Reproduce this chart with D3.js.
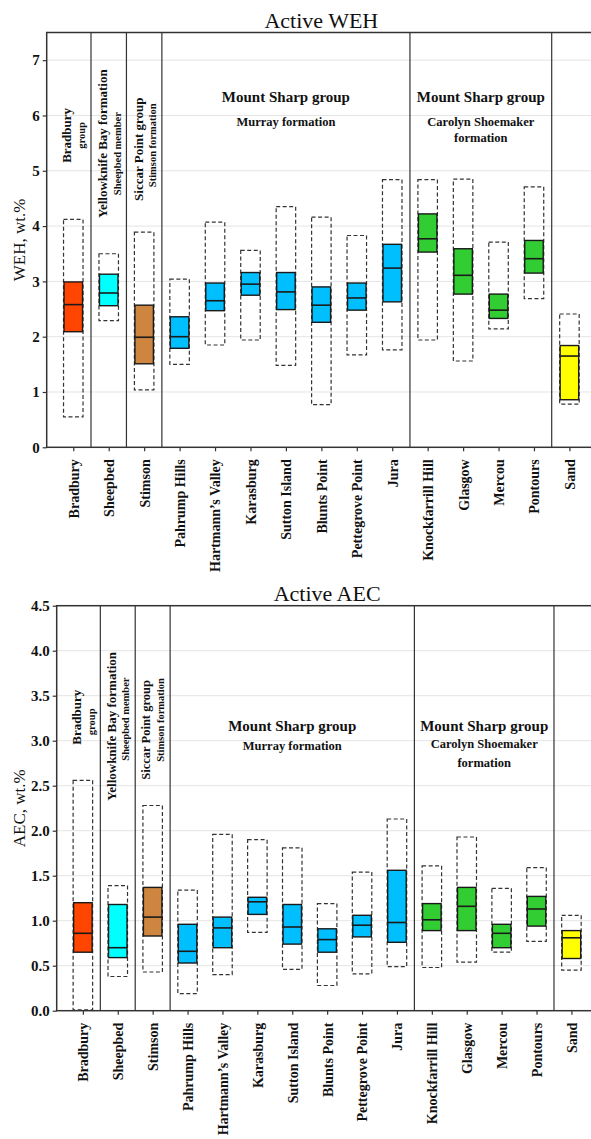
<!DOCTYPE html>
<html>
<head>
<meta charset="utf-8">
<script src="https://cdn.jsdelivr.net/npm/d3@7"></script>
<style>
  html, body { margin: 0; padding: 0; background: #fff; }
  svg { display: block; }
  text { font-family: "Liberation Serif", "Times New Roman", serif; }
</style>
</head>
<body>
<svg id="chart" width="591" height="1139"></svg>
<script>
// ---------------- DATA ----------------
const categories = ["Bradbury", "Sheepbed", "Stimson", "Pahrump Hills", "Hartmann\u2019s Valley",
  "Karasburg", "Sutton Island", "Blunts Point", "Pettegrove Point", "Jura",
  "Knockfarrill Hill", "Glasgow", "Mercou", "Pontours", "Sand"];
const unitColors = ["#FF4500", "#00FFFF", "#CD853F", "#00BFFF", "#00BFFF",
  "#00BFFF", "#00BFFF", "#00BFFF", "#00BFFF", "#00BFFF",
  "#32CD32", "#32CD32", "#32CD32", "#32CD32", "#FFFF00"];
// separators after these categories
const separatorsAfter = ["Bradbury", "Sheepbed", "Stimson", "Jura", "Pontours"];

// Active WEH (wt.%)
const wehMin = [0.55, 2.29, 1.04, 1.50, 1.85, 1.94, 1.48, 0.77, 1.67, 1.76, 1.94, 1.56, 2.14, 2.69, 0.78];
const wehQ1  = [2.09, 2.56, 1.51, 1.79, 2.47, 2.75, 2.49, 2.26, 2.48, 2.63, 3.53, 2.77, 2.33, 3.15, 0.86];
const wehMed = [2.58, 2.79, 1.99, 2.00, 2.65, 2.95, 2.81, 2.57, 2.70, 3.24, 3.77, 3.11, 2.48, 3.41, 1.65];
const wehQ3  = [2.99, 3.13, 2.57, 2.36, 2.97, 3.16, 3.16, 2.90, 2.97, 3.67, 4.22, 3.59, 2.77, 3.74, 1.84];
const wehMax = [4.12, 3.50, 3.89, 3.04, 4.07, 3.56, 4.35, 4.16, 3.83, 4.84, 4.84, 4.85, 3.71, 4.71, 2.41];
const wehTicks = [0, 1, 2, 3, 4, 5, 6, 7];

// Active AEC (wt.%)
const aecMin = [0.01, 0.38, 0.43, 0.19, 0.40, 0.87, 0.46, 0.28, 0.41, 0.49, 0.48, 0.54, 0.65, 0.77, 0.45];
const aecQ1  = [0.65, 0.59, 0.83, 0.53, 0.70, 1.07, 0.74, 0.65, 0.82, 0.76, 0.89, 0.89, 0.70, 0.94, 0.58];
const aecMed = [0.86, 0.70, 1.04, 0.66, 0.92, 1.21, 0.93, 0.79, 0.95, 0.98, 1.01, 1.16, 0.86, 1.13, 0.81];
const aecQ3  = [1.20, 1.18, 1.37, 0.96, 1.04, 1.26, 1.18, 0.91, 1.06, 1.56, 1.19, 1.37, 0.96, 1.27, 0.89];
const aecMax = [2.56, 1.39, 2.28, 1.34, 1.96, 1.90, 1.81, 1.19, 1.54, 2.13, 1.61, 1.93, 1.36, 1.59, 1.06];
const aecTicks = [0, 0.5, 1.0, 1.5, 2.0, 2.5, 3.0, 3.5, 4.0, 4.5];

// ---------------- DRAW ----------------
const svg = d3.select("#chart");

function drawChart(cfg) {
  const g = svg.append("g");
  const x = d3.scalePoint().domain(categories).range([cfg.left, cfg.right]).padding(0.75);
  const y = d3.scaleLinear().domain(cfg.domain).range([cfg.bottom, cfg.top]);
  const step = x.step();
  const bw = 18.5;

  // gridlines
  g.append("g").selectAll("line").data(cfg.ticks.filter(t => t > 0)).join("line")
    .attr("x1", cfg.left).attr("x2", cfg.right)
    .attr("y1", d => y(d)).attr("y2", d => y(d))
    .attr("stroke", "#e4e4e4").attr("stroke-width", 1);

  const rows = categories.map((c, i) => ({
    c, i, min: cfg.min[i], q1: cfg.q1[i], med: cfg.med[i], q3: cfg.q3[i], max: cfg.max[i], color: unitColors[i]
  }));

  // range (dashed) boxes
  g.append("g").selectAll("rect").data(rows).join("rect")
    .attr("x", d => x(d.c) - bw / 2 - 0.5)
    .attr("width", bw + 1)
    .attr("y", d => y(d.max))
    .attr("height", d => y(d.min) - y(d.max))
    .attr("fill", "none")
    .attr("stroke", "#333")
    .attr("stroke-width", 1.2)
    .attr("stroke-dasharray", "4,2.5");

  // interquartile boxes
  g.append("g").selectAll("rect").data(rows).join("rect")
    .attr("x", d => x(d.c) - bw / 2)
    .attr("width", bw)
    .attr("y", d => y(d.q3))
    .attr("height", d => y(d.q1) - y(d.q3))
    .attr("fill", d => d.color)
    .attr("stroke", "#1a1a1a")
    .attr("stroke-width", 1.4);

  // medians
  g.append("g").selectAll("line").data(rows).join("line")
    .attr("x1", d => x(d.c) - bw / 2).attr("x2", d => x(d.c) + bw / 2)
    .attr("y1", d => y(d.med)).attr("y2", d => y(d.med))
    .attr("stroke", "#1a1a1a").attr("stroke-width", 1.6);

  // separators
  g.append("g").selectAll("line").data(separatorsAfter).join("line")
    .attr("x1", d => x(d) + step / 2).attr("x2", d => x(d) + step / 2)
    .attr("y1", cfg.top).attr("y2", cfg.bottom)
    .attr("stroke", "#333").attr("stroke-width", 1.2);

  // frame
  g.append("rect")
    .attr("x", cfg.left).attr("y", cfg.top)
    .attr("width", cfg.right - cfg.left).attr("height", cfg.bottom - cfg.top)
    .attr("fill", "none").attr("stroke", "#333").attr("stroke-width", 1.5);

  // y axis
  const ya = g.append("g").attr("transform", `translate(${cfg.left},0)`)
    .call(d3.axisLeft(y).tickValues(cfg.ticks).tickFormat(cfg.fmt).tickSize(4).tickPadding(3));
  ya.select(".domain").remove();
  ya.selectAll(".tick line").attr("stroke", "#333").attr("stroke-width", 1.2);
  ya.selectAll(".tick text").attr("font-family", "Liberation Serif").attr("font-weight", "bold")
    .attr("font-size", 15).attr("fill", "#111");

  // x axis
  const xa = g.append("g").attr("transform", `translate(0,${cfg.bottom})`)
    .call(d3.axisBottom(x).tickSize(4));
  xa.select(".domain").remove();
  xa.selectAll(".tick line").attr("stroke", "#333").attr("stroke-width", 1.2);
  xa.selectAll(".tick text")
    .attr("font-family", "Liberation Serif").attr("font-weight", "bold").attr("font-size", 14)
    .attr("fill", "#111")
    .attr("transform", "rotate(-90)")
    .attr("text-anchor", "end")
    .attr("x", -12).attr("y", 0).attr("dy", "0.35em");

  // title
  g.append("text").attr("x", (cfg.left + cfg.right) / 2).attr("y", cfg.titleY)
    .attr("text-anchor", "middle").attr("font-size", 22).attr("fill", "#111").text(cfg.title);

  // y label
  g.append("text")
    .attr("transform", `translate(${cfg.ylabX},${(cfg.top + cfg.bottom) / 2}) rotate(-90)`)
    .attr("text-anchor", "middle").attr("dominant-baseline", "central")
    .attr("font-size", 17).attr("fill", "#111").text(cfg.ylabel);

  // vertical unit labels
  cfg.vlabels.forEach(l => {
    g.append("text")
      .attr("transform", `translate(${x(l.cat) + l.dx},${y(l.v)}) rotate(-90)`)
      .attr("text-anchor", "middle").attr("dominant-baseline", "central")
      .attr("font-weight", "bold").attr("font-size", l.size).attr("fill", "#111").text(l.text);
  });

  // horizontal unit labels
  cfg.hlabels.forEach(l => {
    const cx = ((x(l.from) - step / 2) + (x(l.to) + step / 2)) / 2;
    g.append("text").attr("x", cx).attr("y", y(l.v))
      .attr("text-anchor", "middle")
      .attr("font-weight", "bold").attr("font-size", l.size).attr("fill", "#111").text(l.text);
  });
}

drawChart({
  left: 46.7, right: 596, top: 32.5, bottom: 447.3,
  domain: [0, 7.5], ticks: wehTicks, fmt: d3.format("d"),
  min: wehMin, q1: wehQ1, med: wehMed, q3: wehQ3, max: wehMax,
  title: "Active WEH", titleY: 28, ylabel: "WEH, wt.%", ylabX: 19,
  vlabels: [
    { cat: "Bradbury", dx: -6.6, v: 5.64, size: 13, text: "Bradbury" },
    { cat: "Bradbury", dx: 8.7, v: 5.64, size: 10.5, text: "group" },
    { cat: "Sheepbed", dx: -6.6, v: 5.49, size: 13, text: "Yellowknife Bay formation" },
    { cat: "Sheepbed", dx: 8.4, v: 5.31, size: 10.5, text: "Sheepbed member" },
    { cat: "Stimson", dx: -5.5, v: 5.39, size: 13, text: "Siccar Point group" },
    { cat: "Stimson", dx: 8, v: 5.46, size: 10.5, text: "Stimson formation" }
  ],
  hlabels: [
    { from: "Pahrump Hills", to: "Jura", v: 6.24, size: 15, text: "Mount Sharp group" },
    { from: "Pahrump Hills", to: "Jura", v: 5.81, size: 12.5, text: "Murray formation" },
    { from: "Knockfarrill Hill", to: "Pontours", v: 6.24, size: 15, text: "Mount Sharp group" },
    { from: "Knockfarrill Hill", to: "Pontours", v: 5.81, size: 12.5, text: "Carolyn Shoemaker" },
    { from: "Knockfarrill Hill", to: "Pontours", v: 5.52, size: 12.5, text: "formation" }
  ]
});

drawChart({
  left: 56.7, right: 597.6, top: 605.7, bottom: 1010.7,
  domain: [0, 4.5], ticks: aecTicks, fmt: d3.format(".1f"),
  min: aecMin, q1: aecQ1, med: aecMed, q3: aecQ3, max: aecMax,
  title: "Active AEC", titleY: 601, ylabel: "AEC, wt.%", ylabX: 19,
  vlabels: [
    { cat: "Bradbury", dx: -6, v: 3.26, size: 13, text: "Bradbury" },
    { cat: "Bradbury", dx: 9, v: 3.21, size: 10.5, text: "group" },
    { cat: "Sheepbed", dx: -6.3, v: 3.16, size: 13, text: "Yellowknife Bay formation" },
    { cat: "Sheepbed", dx: 7.5, v: 3.24, size: 10.5, text: "Sheepbed member" },
    { cat: "Stimson", dx: -6.6, v: 3.12, size: 12.5, text: "Siccar Point group" },
    { cat: "Stimson", dx: 7.7, v: 3.23, size: 10.5, text: "Stimson formation" }
  ],
  hlabels: [
    { from: "Pahrump Hills", to: "Jura", v: 3.11, size: 15, text: "Mount Sharp group" },
    { from: "Pahrump Hills", to: "Jura", v: 2.90, size: 12.5, text: "Murray formation" },
    { from: "Knockfarrill Hill", to: "Pontours", v: 3.11, size: 15, text: "Mount Sharp group" },
    { from: "Knockfarrill Hill", to: "Pontours", v: 2.92, size: 12.5, text: "Carolyn Shoemaker" },
    { from: "Knockfarrill Hill", to: "Pontours", v: 2.71, size: 12.5, text: "formation" }
  ]
});
</script>
</body>
</html>
